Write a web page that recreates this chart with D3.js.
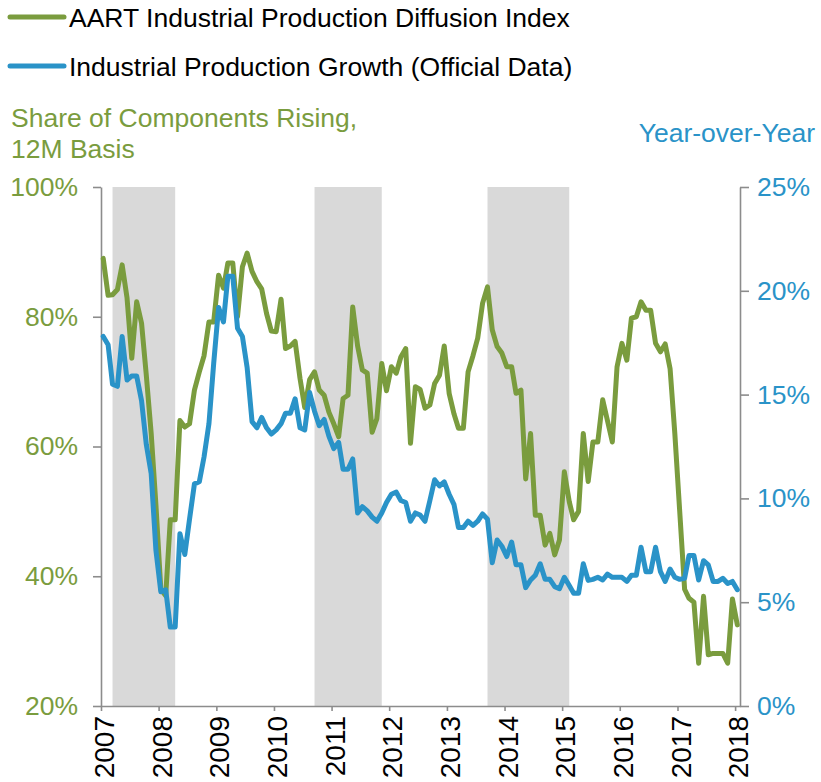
<!DOCTYPE html>
<html>
<head>
<meta charset="utf-8">
<script src="https://d3js.org/d3.v7.min.js"></script>
<style>
  body { margin: 0; background: #fff; }
  svg { display: block; font-family: "Liberation Sans", Arial, sans-serif; }
</style>
</head>
<body>
<svg id="chart-id"></svg>
<script>

const width = 821;
const height = 782;

// plot box, in pixels
const plot = {left: 101, right: 740, top: 187, bottom: 706};

const green = "#7A9C3E";
const blue = "#2A93C8";
const axisGrey = "#8C8C8C";
const fontSize = "26.5px";

// monthly data, Jan 2007 .. Jan 2018
const firstMonth = [2007, 0];

// AART diffusion index, share of components rising (%)
const diffusionIndex = [
  89, 83.3, 83.4, 84.2, 88, 82.9, 73.6, 82.3, 79, 71,
  62, 51, 38, 37, 48.7, 48.7, 64, 63, 63.5, 68.7,
  71.5, 74, 79.2, 79.2, 86.4, 84.4, 88.3, 88.3, 80, 87.7,
  89.8, 87, 85.4, 84.3, 80.5, 77.8, 77.7, 82.7, 75.1, 75.5,
  76.2, 70.5, 66, 70.3, 71.5, 68.7, 67.9, 65.3, 63.5, 61.5,
  67.4, 67.9, 81.5, 75.5, 71.8, 71.3, 62.2, 64.3, 72.8, 68.6,
  72.3, 71.3, 73.8, 75.1, 60.5, 69.2, 68.8, 65.9, 66.4, 69.7,
  71, 75.5, 68.2, 65, 62.8, 62.8, 71.5, 74, 76.7, 82.1,
  84.6, 78, 75.4, 74.4, 72.3, 72.3, 68.2, 68.7, 55, 62,
  49.4, 49.4, 44.8, 46.6, 43.3, 45.6, 56.1, 51.5, 48.7, 50,
  62, 54.6, 60.7, 60.7, 67.2, 64, 60.7, 72.3, 75.9, 73.3,
  79.8, 80, 82.3, 81, 81, 75.9, 74.6, 75.8, 72, 62,
  50, 38, 36.6, 36, 26.6, 36.9, 27.9, 28.1, 28.1, 28.1,
  26.6, 36.5, 32.5
];

// official industrial production growth, year-over-year (%)
const ipGrowth = [
  17.8, 17.4, 15.5, 15.4, 17.8, 15.7, 15.9, 15.9, 14.7, 12.6,
  11.2, 7.5, 5.5, 5.6, 3.8, 3.8, 8.3, 7.3, 9.0, 10.7,
  10.8, 12.0, 13.6, 16.5, 19.2, 18.5, 20.7, 20.7, 18.2, 17.8,
  16.3, 13.7, 13.4, 13.9, 13.4, 13.1, 13.3, 13.6, 14.1, 14.1,
  14.8, 13.4, 13.3, 15.1, 14.2, 13.5, 13.8, 13.0, 12.4, 12.7,
  11.4, 11.4, 11.9, 9.3, 9.6, 9.4, 9.1, 8.9, 9.3, 9.8,
  10.2, 10.3, 9.9, 9.8, 8.9, 9.3, 9.2, 8.9, 9.9, 10.9,
  10.6, 10.8, 10.2, 9.7, 8.6, 8.6, 8.9, 8.7, 8.9, 9.25,
  9.0, 6.9, 8.0, 7.7, 7.2, 7.9, 6.8, 6.8, 5.7, 6.07,
  6.3, 6.85, 6.1, 6.1, 5.75, 5.65, 6.2, 5.8, 5.43, 5.43,
  6.85, 6.05, 6.1, 6.2, 6.07, 6.35, 6.2, 6.2, 6.2, 6.0,
  6.3, 6.3, 7.65, 6.47, 6.47, 7.65, 6.47, 6.0, 6.6, 6.2,
  6.1, 6.15, 7.25, 7.25, 6.07, 7.0, 6.8, 6.0, 6.0, 6.15,
  5.9, 6.0, 5.6
];

// shaded slowdown periods [start year, start month, end year, end month]
const shadedPeriods = [
  [2007, 2, 2008, 3],
  [2010, 8, 2011, 10],
  [2013, 8, 2015, 1]
];

const yearTicks = [2007, 2008, 2009, 2010, 2011, 2012, 2013, 2014, 2015, 2016, 2017, 2018];
const leftTicks = [20, 40, 60, 80, 100];
const rightTicks = [0, 5, 10, 15, 20, 25];

const legendLabels = ["AART Industrial Production Diffusion Index", "Industrial Production Growth (Official Data)"];
const leftTitle = ["Share of Components Rising,", "12M Basis"];
const rightTitle = "Year-over-Year";


let svg = d3.select("#chart-id")
            .attr("width", width)
            .attr("height", height);

// points sit in the middle of each month
let monthDate = function(i) { return new Date(firstMonth[0], firstMonth[1] + i, 15); };

// scales
let x = d3.scaleTime()
          .domain([new Date(2007, 0, 1), new Date(2018, 1, 1)])
          .range([plot.left, plot.right]);

let yLeft = d3.scaleLinear()
              .domain([20, 100])
              .range([plot.bottom, plot.top]);

let yRight = d3.scaleLinear()
               .domain([0, 25])
               .range([plot.bottom, plot.top]);

// grey shaded bands
svg.append("g")
   .selectAll("rect")
   .data(shadedPeriods)
   .enter()
   .append("rect")
   .attr("x", d => x(new Date(d[0], d[1], 15)))
   .attr("width", d => x(new Date(d[2], d[3], 15)) - x(new Date(d[0], d[1], 15)))
   .attr("y", plot.top)
   .attr("height", plot.bottom - plot.top)
   .attr("fill", "#D9D9D9");

// axes
let xAxis = svg.append("g")
   .attr("transform", "translate(0," + plot.bottom + ")")
   .call(d3.axisBottom(x)
           .tickValues(yearTicks.map(d => new Date(d, 0, 1)))
           .tickSize(5)
           .tickSizeOuter(0)
           .tickFormat(d3.timeFormat("%Y")));

xAxis.selectAll("text")
   .attr("transform", "rotate(-90)")
   .attr("text-anchor", "end")
   .attr("x", -10)
   .attr("y", 0)
   .attr("dy", "0.45em")
   .attr("fill", "#000")
   .style("font-size", "28px");

let leftAxis = svg.append("g")
   .attr("transform", "translate(" + plot.left + ",0)")
   .call(d3.axisLeft(yLeft)
           .tickValues(leftTicks)
           .tickSize(8)
           .tickSizeOuter(0)
           .tickPadding(15)
           .tickFormat(d => d + "%"));

leftAxis.selectAll("text")
   .attr("fill", green)
   .style("font-size", fontSize);

let rightAxis = svg.append("g")
   .attr("transform", "translate(" + plot.right + ",0)")
   .call(d3.axisRight(yRight)
           .tickValues(rightTicks)
           .tickSize(9)
           .tickSizeOuter(0)
           .tickPadding(8)
           .tickFormat(d => d + "%"));

rightAxis.selectAll("text")
   .attr("fill", blue)
   .style("font-size", fontSize);

// axis lines in grey
svg.selectAll(".domain, .tick line")
   .attr("stroke", axisGrey)
   .attr("stroke-width", 1.6);

// the two series
let greenLine = d3.line()
   .x((d, i) => x(monthDate(i)))
   .y(d => yLeft(d));

let blueLine = d3.line()
   .x((d, i) => x(monthDate(i)))
   .y(d => yRight(d));

svg.append("path")
   .datum(diffusionIndex)
   .attr("d", greenLine)
   .attr("fill", "none")
   .attr("stroke", green)
   .attr("stroke-width", 5)
   .attr("stroke-linejoin", "round")
   .attr("stroke-linecap", "round");

svg.append("path")
   .datum(ipGrowth)
   .attr("d", blueLine)
   .attr("fill", "none")
   .attr("stroke", blue)
   .attr("stroke-width", 5)
   .attr("stroke-linejoin", "round")
   .attr("stroke-linecap", "round");

// legend at the top
let legend = svg.append("g")
   .selectAll("g")
   .data(legendLabels)
   .enter()
   .append("g")
   .attr("transform", (d, i) => "translate(0," + (17 + i * 49) + ")");

legend.append("line")
   .attr("x1", 10)
   .attr("x2", 64)
   .attr("stroke", (d, i) => i == 0 ? green : blue)
   .attr("stroke-width", 5)
   .attr("stroke-linecap", "round");

legend.append("text")
   .attr("x", 69)
   .attr("y", 9.5)
   .attr("fill", "#000")
   .style("font-size", fontSize)
   .text(d => d);

// axis titles
svg.append("text")
   .attr("fill", green)
   .style("font-size", fontSize)
   .selectAll("tspan")
   .data(leftTitle)
   .enter()
   .append("tspan")
   .attr("x", 11)
   .attr("y", (d, i) => 127 + i * 31)
   .text(d => d);

svg.append("text")
   .attr("x", 815)
   .attr("y", 142)
   .attr("text-anchor", "end")
   .attr("fill", blue)
   .style("font-size", fontSize)
   .text(rightTitle);

</script>
</body>
</html>
